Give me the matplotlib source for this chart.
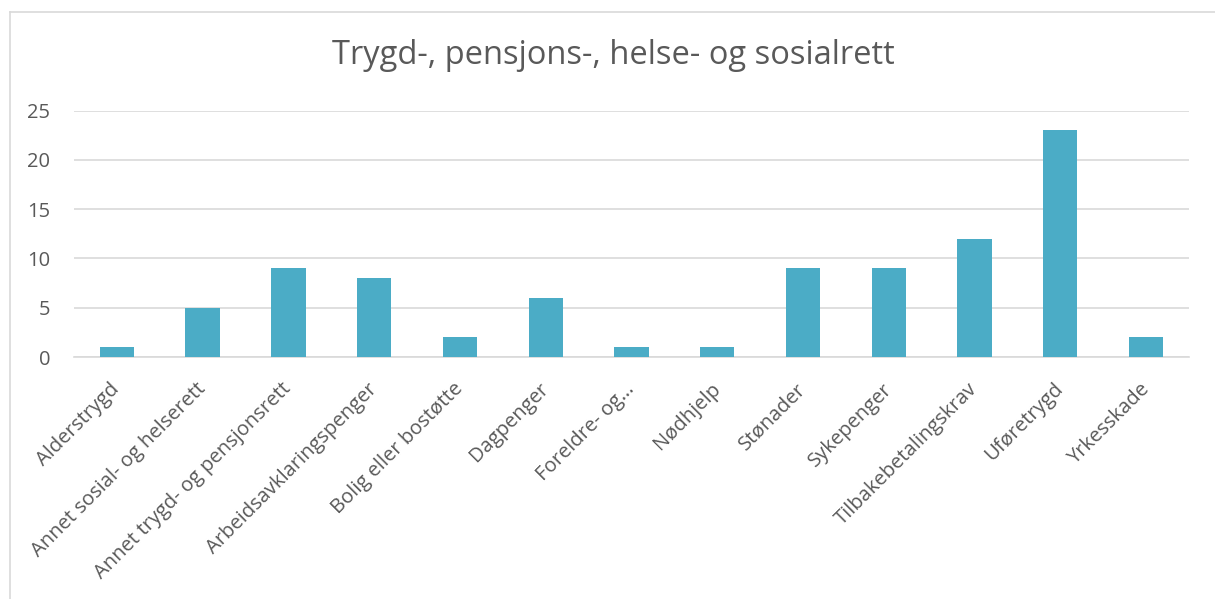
import matplotlib.pyplot as plt
from matplotlib.lines import Line2D

kategorier = ['Alderstrygd', 'Annet sosial- og helserett', 'Annet trygd- og pensjonsrett',
              'Arbeidsavklaringspenger', 'Bolig eller bostøtte', 'Dagpenger', 'Foreldre- og…',
              'Nødhjelp', 'Stønader', 'Sykepenger', 'Tilbakebetalingskrav', 'Uføretrygd', 'Yrkesskade']
antall = [1, 5, 9, 8, 2, 6, 1, 1, 9, 9, 12, 23, 2]
y_ticks = [0, 5, 10, 15, 20, 25]

plt.rcParams['font.family'] = ['Open Sans', 'DejaVu Sans']
tekst = '#595959'

fig = plt.figure(figsize=(12.15, 5.99), dpi=100)
ax = fig.add_axes([0.0609, 0.404, 0.9177, 0.4112])

x = range(len(kategorier))
ax.bar(x, antall, width=0.4, color='#4BACC6', zorder=3)
ax.set_xlim(-0.5, len(kategorier) - 0.5)
ax.set_ylim(0, 25)
ax.set_yticks(y_ticks)
ax.yaxis.grid(True, color='#D9D9D9', linewidth=1.2, zorder=0)
ax.set_xticks(list(x))
ax.set_xticklabels(kategorier, rotation=45, ha='right', va='center', rotation_mode='anchor')
ax.tick_params(axis='both', length=0, labelsize=14.5, colors=tekst)
ax.tick_params(axis='y', pad=17)
ax.tick_params(axis='x', pad=21)
for s in ['top', 'right', 'left']:
    ax.spines[s].set_visible(False)
ax.spines['bottom'].set_color('#D9D9D9')
ax.spines['bottom'].set_linewidth(1.2)

fig.text(0.505, 0.908, 'Trygd-, pensjons-, helse- og sosialrett', ha='center', va='center',
         fontsize=23.5, color=tekst)

# ramme (bare venstre og topp synlig i utsnittet)
x0, y0 = 10 / 1215, 1 - 12 / 599
fig.add_artist(Line2D([x0, x0], [0, y0], transform=fig.transFigure, color='#D9D9D9', linewidth=1.2))
fig.add_artist(Line2D([x0, 1], [y0, y0], transform=fig.transFigure, color='#D9D9D9', linewidth=1.2))

fig.savefig('out.png', dpi=100)
